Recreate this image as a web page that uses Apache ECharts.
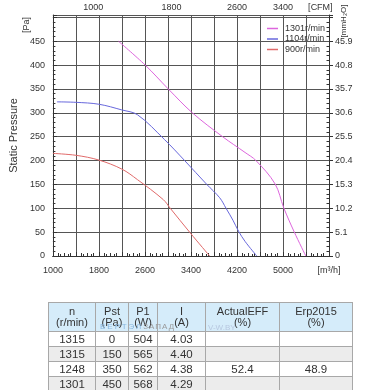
<!DOCTYPE html>
<html><head><meta charset="utf-8">
<script src="https://cdn.jsdelivr.net/npm/echarts@6/dist/echarts.min.js"></script>
<style>
html,body{margin:0;padding:0;background:#fff;width:365px;height:390px;overflow:hidden;font-family:"Liberation Sans",Arial,sans-serif;}
#chart{position:absolute;left:0;top:0;width:365px;height:390px;}
#tbl{position:absolute;left:48px;top:302px;border-collapse:collapse;table-layout:fixed;font-size:11px;color:#333;}
#tbl td,#tbl th{border:1px solid #a8a8a8;text-align:center;padding:0;font-weight:normal;}
#tbl th{background:#d5ecfa;height:28px;line-height:11px;}
#tbl td{height:14px;line-height:14px;font-size:11.5px;}
#tbl tr.g td{background:#ececec;}
.wm{position:absolute;font-size:8px;letter-spacing:2px;}
</style></head>
<body>
<div id="chart"></div>
<table id="tbl"></table>
<div class="wm" style="left:100px;top:322px;color:#8ab8e0;">ВЕРТЭЛ<span style="color:#9a9a9a;letter-spacing:1px">ЗАПАД</span></div>
<div class="wm" style="left:208px;top:323px;color:#b8c8e0;letter-spacing:0">V-W.BY</div>
<script>
// ---- data ----
const seriesNames = ['1301r/min', '1104r/min', '900r/min'];
// [airflow m3/h, static pressure Pa]
const curve1301 = [[2140,450],[2605,400],[3006,350],[3424,300],[3950,250],[4340,217],[4530,200],[4863,151],[5013,101],[5197,50],[5397,0]];
const curve1104 = [[1070,323],[1400,322],[1800,318],[2200,306],[2470,296],[2940,244],[3290,200],[3675,150],[3900,122],[4010,100],[4130,75],[4227,52],[4344,30],[4545,0]];
const curve900  = [[1000,215],[1400,211],[1800,201],[2200,182],[2470,160],[2920,118],[3040,100],[3390,48],[3725,0]];
const topTickLabels = ['1000','1800','2600','3400','[CFM]'];
const topTickAt = [1700, 3060, 4200, 5000, 5650];
const tableHead = ['n<br>(r/min)','Pst<br>(Pa)','P1<br>(W)','I<br>(A)','ActualEFF<br>(%)','Erp2015<br>(%)'];
const tableRows = [
  ['1315','0','504','4.03','',''],
  ['1315','150','565','4.40','',''],
  ['1248','350','562','4.38','52.4','48.9'],
  ['1301','450','568','4.29','','']
];
const colWidths = [47,33,29,48,74,73];
const colors = ['#dd66dd','#6868dc','#e06a6a'];

// ---- table ----
const tbl = document.getElementById('tbl');
let html = '<colgroup>' + colWidths.map(w => '<col style="width:' + w + 'px">').join('') + '</colgroup>';
html += '<tr>' + tableHead.map(h => '<th>' + h + '</th>').join('') + '</tr>';
tableRows.forEach((r, i) => {
  html += '<tr' + (i % 2 === 1 ? ' class="g"' : '') + '>' + r.map(c => '<td>' + c + '</td>').join('') + '</tr>';
});
tbl.innerHTML = html;

// ---- chart ----
const chart = echarts.init(document.getElementById('chart'), null, {renderer: 'canvas'});
const font = '"Liberation Sans", Arial, sans-serif';
const axisCol = '#333';
const gridCol = '#555';
const lbl = {fontSize: 9, color: '#333', fontFamily: font};
const yBase = {type: 'value', min: 0, max: 505, interval: 50};
chart.setOption({
  animation: false,
  textStyle: {fontFamily: font},
  grid: {left: 42, right: 36, top: 15, bottom: 134, containLabel: false},
  legend: {
    orient: 'vertical', left: 267, top: 24, itemWidth: 11, itemHeight: 1.5, itemGap: 1.5, padding: 0,
    icon: 'rect',
    textStyle: {fontSize: 9, color: '#333', fontFamily: font, padding: [0, 0, 0, 2]},
    data: seriesNames
  },
  xAxis: [
    {type: 'value', position: 'bottom', min: 1000, max: 5800, interval: 400,
     axisLine: {lineStyle: {color: axisCol}},
     axisTick: {inside: true, length: 4, lineStyle: {color: axisCol}},
     minorTick: {show: true, splitNumber: 4, length: 3, lineStyle: {color: axisCol}},
     splitLine: {show: true, lineStyle: {color: gridCol, width: 1}},
     axisLabel: Object.assign({margin: 10, formatter: v => v === 5800 ? '[m³/h]' : ((v - 1000) % 800 === 0 ? String(v) : '')}, lbl)},
    {type: 'value', position: 'top', min: 1000, max: 5800, interval: 400,
     axisLine: {lineStyle: {color: axisCol}},
     axisTick: {inside: false, length: 3, lineStyle: {color: axisCol}},
     minorTick: {show: true, splitNumber: 3, length: 2, lineStyle: {color: axisCol}},
     splitLine: {show: false},
     axisLabel: Object.assign({margin: 3, customValues: topTickAt,
       formatter: v => { const i = topTickAt.indexOf(v); return i >= 0 ? topTickLabels[i] : ''; }}, lbl)}
  ],
  yAxis: [
    Object.assign({position: 'left',
     name: 'Static Pressure', nameLocation: 'middle', nameGap: 30,
     nameTextStyle: {fontSize: 11, color: '#333', fontFamily: font},
     axisLine: {lineStyle: {color: axisCol}},
     axisTick: {inside: true, length: 4, lineStyle: {color: axisCol}},
     minorTick: {show: true, splitNumber: 5, length: 2.5, lineStyle: {color: axisCol}},
     splitLine: {show: true, lineStyle: {color: gridCol, width: 1}},
     axisLabel: Object.assign({margin: 8, formatter: v => v > 450 ? '' : String(v)}, lbl)}, yBase),
    Object.assign({position: 'right',
     axisLine: {lineStyle: {color: axisCol}},
     axisTick: {inside: false, length: 4, lineStyle: {color: axisCol}},
     splitLine: {show: false},
     axisLabel: Object.assign({margin: 6, formatter: v => v > 450 ? '' : (v === 0 ? '0' : (v / 9.8).toFixed(1))}, lbl)}, yBase),
    Object.assign({position: 'right',
     axisLine: {show: false},
     axisTick: {show: false, inside: true},
     minorTick: {show: true, splitNumber: 5, length: 2.5, lineStyle: {color: axisCol}},
     splitLine: {show: false},
     axisLabel: {show: false}}, yBase)
  ],
  graphic: [
    {type: 'text', x: 27, y: 25, rotation: Math.PI / 2, style: {text: '[Pa]', fontSize: 9, fill: '#333', align: 'center', verticalAlign: 'middle', fontFamily: font}},
    {type: 'text', x: 344, y: 21, rotation: Math.PI / 2, style: {text: '[mmH₂O]', fontSize: 8, fill: '#333', align: 'center', verticalAlign: 'middle', fontFamily: font}}
  ],
  series: [curve1301, curve1104, curve900].map((d, i) => ({
    name: seriesNames[i], type: 'line', data: d, smooth: 0.35, symbol: 'none',
    xAxisIndex: 0, yAxisIndex: 0,
    lineStyle: {color: colors[i], width: 1}, itemStyle: {color: colors[i]}
  }))
});
</script>
</body></html>
